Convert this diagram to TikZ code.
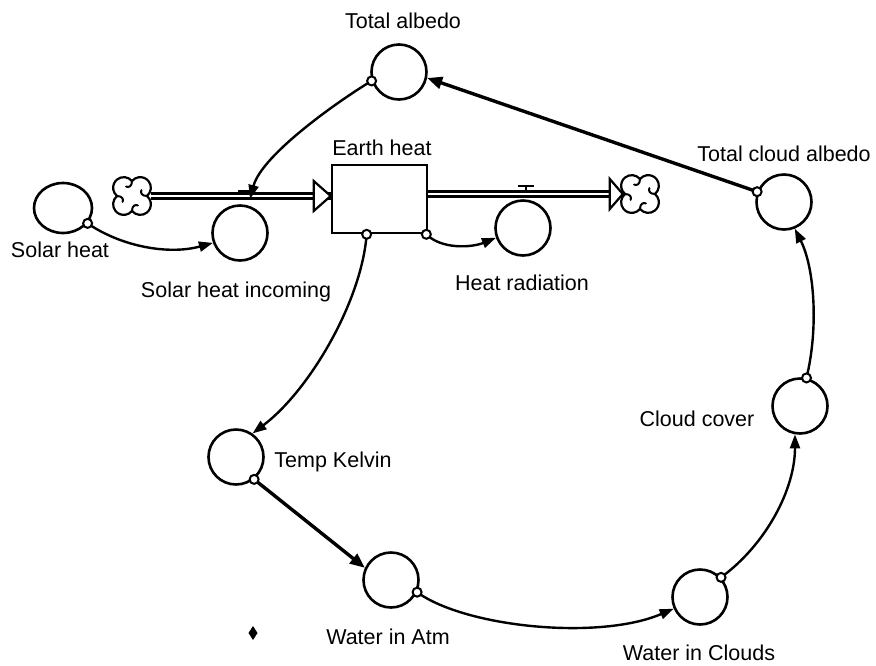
\documentclass[tikz,border=0pt]{standalone}
\usepackage{fontspec}
\setmainfont{Liberation Sans}
\usetikzlibrary{arrows.meta,shapes.geometric,calc}

\tikzset{
  conv/.style={circle,draw,line width=2.6pt,minimum size=55pt,inner sep=0pt},
  lbl/.style={font=\fontsize{21.5}{25}\selectfont,anchor=base,inner sep=0pt},
  link/.style={line width=2.4pt,-{Triangle[length=14pt,width=10pt]}},
  heavylink/.style={line width=3.4pt,-{Triangle[length=15pt,width=12pt]}},
  srcdot/.style={circle,draw,line width=2pt,fill=white,minimum size=9pt,inner sep=0pt},
  cloudspot/.style={minimum size=38pt,inner sep=0pt},
  pics/cloud/.style={code={
    \begin{scope}[scale=1.18]
    \draw[line width=2.2pt,fill=white,line join=round]
      (0,12.66) arc[start angle=141,end angle=-51,radius=9]
                arc[start angle=51,end angle=-141,radius=9]
                arc[start angle=-39,end angle=-231,radius=9]
                arc[start angle=231,end angle=39,radius=9] -- cycle;
    \draw[line width=2pt,line cap=round]
      (0,12.66) .. controls (0,8) and (3,7) .. (5,8)
      (12.66,0) .. controls (8,0) and (7,-3) .. (8,-5)
      (0,-12.66) .. controls (0,-8) and (-3,-7) .. (-5,-8)
      (-12.66,0) .. controls (-8,0) and (-7,3) .. (-8,5);
    \end{scope}
  }}
}

\begin{document}
\begin{tikzpicture}[x=1pt,y=-1pt]
\useasboundingbox (0,0) rectangle (876,665);

% stock
\node[draw,line width=2.6pt,minimum width=95pt,minimum height=68pt,inner sep=0pt] (eh) at (379.5,199) {};

% converters
\node[ellipse,draw,line width=2.6pt,minimum width=58pt,minimum height=50pt,inner sep=0pt] (sh) at (63,208) {};
\node[conv] (shi) at (240,233) {};
\node[conv] (ta)  at (399,72) {};
\node[conv] (tca) at (784,202) {};
\node[conv] (hr)  at (523,228) {};
\node[conv] (tk)  at (236,457) {};
\node[conv] (wia) at (391,580) {};
\node[conv] (wic) at (700,597) {};
\node[conv] (cc)  at (800,406) {};

% source and sink
\node[cloudspot] (c1) at (132,196) {};
\node[cloudspot] (c2) at (640,194) {};

% flow pipes
\coordinate (in1) at (c1.east);
\coordinate (in2) at (c1.east -| eh.west);
\coordinate (out1) at (c2.west -| eh.east);
\coordinate (out2) at ($(c2.west)+(2,0)$);
\foreach \a/\b in {in1/in2,out1/out2}{
  \draw[line width=7.5pt] (\a) -- (\b);
  \draw[white,line width=2.4pt] (\a) -- (\b);
}
\draw[line width=2.2pt,fill=white,line join=miter] (in2) -- ++(-17,-15) -- ++(0,30) -- cycle;
\draw[line width=2.2pt,fill=white,line join=miter] (out2) -- ++(-13,-15) -- ++(0,30) -- cycle;
\pic at (c1) {cloud};
\pic at (c2) {cloud};

% valves
\coordinate (v1) at (250,199);
\coordinate (v2) at (526,194);
\draw[line width=2.4pt] ($(v1)+(-4,-4)$) -- ++(0,-4) ++(-8,0) -- ++(16,0);
\draw[line width=2.4pt] ($(v2)+(0,-3)$) -- ++(0,-5) ++(-8,0) -- ++(16,0);

% connectors
\draw[link] (sh.-32) .. controls +(35,24) and +(-43,12) .. (shi.-160);
\draw[link] (ta.198) .. controls +(-30,18) and +(12,-45) .. (v1);
\draw[heavylink] (tca.159) -- (ta.-12);
\draw[link] (eh.-37) .. controls +(15,15) and +(-25,10) .. (hr.200);
\draw[link] (eh.-110) .. controls +(-5,67) and +(57,-43) .. (tk.55);
\draw[heavylink] (tk.-51) -- (wia.155);
\draw[link] (wia.-25) .. controls +(48,35) and +(-75,32) .. (wic.-156);
\draw[link] (wic.43) .. controls +(45,-33) and +(0,55) .. (cc.-100);
\draw[link] (cc.77) .. controls +(12,-49) and +(20,40) .. (tca.-68);

% connector origins
\node[srcdot] (o1) at (sh.-32) {};
\node[srcdot] (o2) at (ta.198) {};
\node[srcdot] (o3) at (tca.159) {};
\node[srcdot] (o4) at (eh.-37) {};
\node[srcdot] (o5) at (eh.-110) {};
\node[srcdot] (o6) at (tk.-51) {};
\node[srcdot] (o7) at (wia.-25) {};
\node[srcdot] (o8) at (wic.43) {};
\node[srcdot] (o9) at (cc.77) {};

% labels
\node[lbl] (l-ta)  at (403,28)  {Total albedo};
\node[lbl] (l-eh)  at (382,155) {Earth heat};
\node[lbl] (l-tca) at (784,161) {Total cloud albedo};
\node[lbl] (l-sh)  at (60,257)  {Solar heat};
\node[lbl] (l-shi) at (236,297) {Solar heat incoming};
\node[lbl] (l-hr)  at (522,290) {Heat radiation};
\node[lbl] (l-tk)  at (333,467) {Temp Kelvin};
\node[lbl] (l-cc)  at (697,426) {Cloud cover};
\node[lbl] (l-wia) at (388,644) {Water in Atm};
\node[lbl] (l-wic) at (699,660) {Water in Clouds};

% small mark
\fill (253,626) -- (257.5,633) -- (253,640) -- (248.5,633) -- cycle;
\end{tikzpicture}
\end{document}
